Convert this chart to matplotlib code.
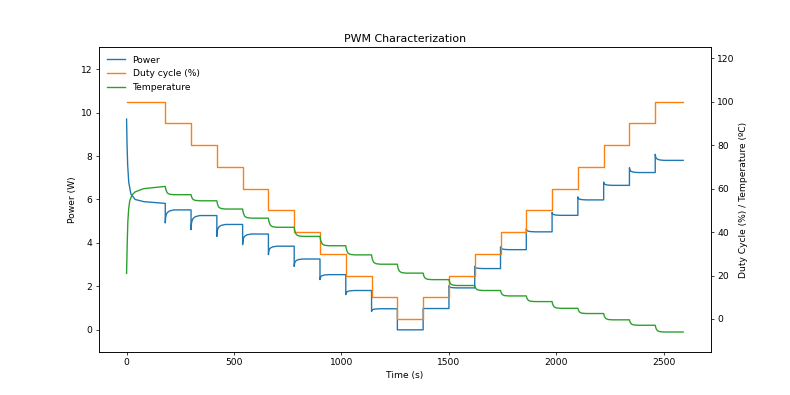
import numpy as np
import matplotlib
matplotlib.use("Agg")
import matplotlib.pyplot as plt

# step times (s) and the end of the run
step_times = [0, 180, 300, 420, 540, 660, 780, 900, 1020, 1140, 1260,
              1380, 1500, 1620, 1740, 1860, 1980, 2100, 2220, 2340, 2460]
end_time = 2590

duty = [100, 90, 80, 70, 60, 50, 40, 30, 20, 10, 0,
        10, 20, 30, 40, 50, 60, 70, 80, 90, 100]

# power right after each step (dip / spike) and where it settles (W)
power_step = [9.70, 4.92, 4.61, 4.30, 3.92, 3.46, 2.92, 2.31, 1.62, 0.85, 0.0,
              0.98, 2.03, 2.92, 3.82, 4.65, 5.40, 6.12, 6.80, 7.46, 8.08]
power_level = [5.82, 5.52, 5.26, 4.85, 4.41, 3.85, 3.26, 2.54, 1.81, 0.97, 0.0,
               0.98, 1.93, 2.82, 3.69, 4.51, 5.27, 5.98, 6.65, 7.24, 7.80]

# temperature plateau reached in each step (ºC)
temp_level = [61.0, 57.2, 54.4, 50.6, 46.4, 42.2, 38.0, 33.7, 29.5, 25.2, 21.1,
              18.1, 15.4, 13.1, 10.6, 8.0, 4.9, 2.5, -0.4, -2.9, -6.0]

# first step, read point by point (warm-up)
first_t = [0, 2, 5, 10, 20, 40, 80, 180]
first_power = [9.70, 8.60, 7.60, 6.80, 6.25, 6.00, 5.90, 5.82]
first_temp_t = [0, 3, 6, 10, 15, 25, 40, 80, 180]
first_temp = [21.0, 35.0, 45.0, 51.0, 54.5, 57.0, 58.5, 60.0, 61.0]

# settling shape after a step (share of the jump left)
settle_t = [0, 2, 5, 10, 20, 40]
settle_power = [1.0, 0.55, 0.35, 0.2, 0.08, 0.0]
settle_temp = [1.0, 0.7, 0.45, 0.2, 0.06, 0.0]

t_p, p = list(first_t), list(first_power)
t_T, T = list(first_temp_t), list(first_temp)
bounds = step_times[1:] + [end_time]
for i in range(1, len(step_times)):
    t0, t1 = step_times[i], bounds[i]
    for dt, f in zip(settle_t, settle_power):
        t_p.append(t0 + dt)
        p.append(power_level[i] + (power_step[i] - power_level[i]) * f)
    t_p.append(t1)
    p.append(power_level[i])
    for dt, f in zip(settle_t, settle_temp):
        t_T.append(t0 + dt)
        T.append(temp_level[i] + (temp_level[i - 1] - temp_level[i]) * f)
    t_T.append(t1)
    T.append(temp_level[i])

dpi = 790 / 12
fig, ax = plt.subplots(figsize=(12, 6), dpi=dpi)
ax2 = ax.twinx()

l1, = ax.plot(t_p, p, color='C0', label='Power')
l2, = ax2.step(step_times + [end_time], duty + [duty[-1]], where='post',
               color='C1', label='Duty cycle (%)')
l3, = ax2.plot(t_T, T, color='C2', label='Temperature')

ax.set_ylim(-1, 13)
ax2.set_ylim(-15, 125)
ax.set_xlabel('Time (s)')
ax.set_ylabel('Power (W)')
ax2.set_ylabel('Duty Cycle (%) / Temperature (ºC)')
ax.set_title('PWM Characterization')
ax.legend(handles=[l1, l2, l3], loc='upper left', frameon=False)

fig.savefig('out.png', dpi=dpi)
